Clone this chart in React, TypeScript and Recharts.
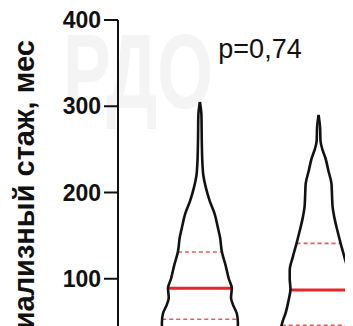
import React from "react";
import { ComposedChart, Line, XAxis, YAxis, Customized } from "recharts";

// Violin 1 (left group)
const levels1 = [305, 290, 260, 235, 220, 205, 190, 175, 160, 148, 131, 115, 100, 89, 78, 70, 60, 50, 40, 20, 0];
const density1 = [0, 0.04, 0.05, 0.065, 0.09, 0.16, 0.26, 0.39, 0.47, 0.53, 0.58, 0.68, 0.76, 0.84, 0.82, 0.87, 0.97, 1.0, 1.0, 0.8, 0.4];
// Violin 2 (right group)
const levels2 = [290, 275, 260, 250, 240, 225, 210, 195, 183, 170, 155, 141, 125, 110, 100, 88, 75, 60, 50, 40, 20, 0];
const density2 = [0, 0.04, 0.05, 0.1, 0.18, 0.26, 0.34, 0.355, 0.37, 0.42, 0.5, 0.58, 0.68, 0.76, 0.76, 0.74, 0.79, 0.87, 0.95, 1.0, 0.85, 0.4];

const groupCenters = [1, 2];
// quartiles: [Q1, median, Q3]
const quartiles1 = [53, 89, 131];
const quartiles2 = [46, 87, 141];

const yTicks = [100, 200, 300, 400];
const pLabel = "p=0,74";
const yLabel = "Диализный стаж, мес";
const watermark = "РДО";

const MAX_HW = 0.32;
const FONT = "'Liberation Sans', Arial, Helvetica, sans-serif";

function side(levels: number[], dens: number[], center: number, sign: number) {
  return levels.map((v, i) => ({ x: center + sign * dens[i] * MAX_HW, y: v }));
}

function hwAt(levels: number[], dens: number[], v: number) {
  for (let i = 0; i < levels.length - 1; i++) {
    const a = levels[i], b = levels[i + 1];
    if (v <= a && v >= b) {
      const t = (a - v) / (a - b);
      return (dens[i] + (dens[i + 1] - dens[i]) * t) * MAX_HW;
    }
  }
  return 0;
}

function qLine(levels: number[], dens: number[], center: number, v: number) {
  const hw = hwAt(levels, dens, v);
  return [
    { x: center - hw, y: v },
    { x: center + hw, y: v },
  ];
}

const groups = [
  { levels: levels1, dens: density1, center: groupCenters[0], q: quartiles1 },
  { levels: levels2, dens: density2, center: groupCenters[1], q: quartiles2 },
];

export default function App() {
  return (
    <div style={{ margin: "-8px 0 0 -8px", width: 353, height: 326, overflow: "hidden", background: "#fff" }}>
      <ComposedChart width={353} height={380} margin={{ top: 20, right: 0, bottom: 15, left: 0 }}>
        <Customized
          component={
            <g>
              <text
                x={63}
                y={108}
                fontSize={105}
                fontWeight="bold"
                fontFamily={FONT}
                fill="#f4f4f4"
                textLength={150}
                lengthAdjust="spacingAndGlyphs"
              >
                {watermark}
              </text>
              <text x={260} y={58} textAnchor="middle" fontSize={27} fontFamily={FONT} fill="#111">
                {pLabel}
              </text>
              <text
                x={34}
                y={40}
                textAnchor="end"
                fontSize={29}
                fontWeight="bold"
                fontFamily={FONT}
                fill="#111"
                transform="rotate(-90, 34, 40)"
              >
                {yLabel}
              </text>
            </g>
          }
        />
        <XAxis type="number" dataKey="x" domain={[0.31, 2.29]} hide height={0} allowDataOverflow />
        <YAxis
          type="number"
          dataKey="y"
          domain={[0, 400]}
          ticks={yTicks}
          width={118}
          tickSize={14}
          tickMargin={3}
          axisLine={{ stroke: "#111", strokeWidth: 2 }}
          tickLine={{ stroke: "#111", strokeWidth: 2 }}
          tick={{ fill: "#111", fontSize: 23, fontWeight: "bold", fontFamily: FONT }}
          allowDataOverflow
        />
        {groups.map((g, gi) =>
          [0, 2].map((qi) => (
            <Line
              key={`q${gi}-${qi}`}
              data={qLine(g.levels, g.dens, g.center, g.q[qi])}
              dataKey="y"
              type="linear"
              stroke="#e8585c"
              strokeWidth={1.6}
              strokeDasharray="4 3"
              dot={false}
              activeDot={false}
              isAnimationActive={false}
            />
          ))
        )}
        {groups.map((g, gi) => (
          <Line
            key={`m${gi}`}
            data={qLine(g.levels, g.dens, g.center, g.q[1])}
            dataKey="y"
            type="linear"
            stroke="#e3262c"
            strokeWidth={3}
            dot={false}
            activeDot={false}
            isAnimationActive={false}
          />
        ))}
        {groups.map((g, gi) =>
          [1, -1].map((s) => (
            <Line
              key={`v${gi}-${s}`}
              data={side(g.levels, g.dens, g.center, s)}
              dataKey="y"
              type="monotoneY"
              stroke="#111"
              strokeWidth={2.6}
              dot={false}
              activeDot={false}
              isAnimationActive={false}
            />
          ))
        )}
      </ComposedChart>
    </div>
  );
}
